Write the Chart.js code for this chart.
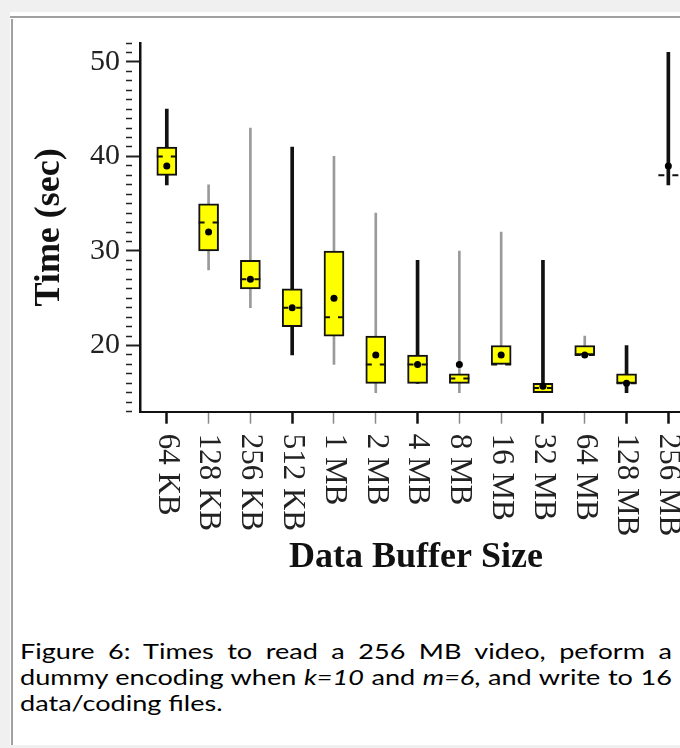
<!DOCTYPE html>
<html lang="en">
<head>
  <meta charset="UTF-8">
  <title>Figure 6: Data Buffer Size</title>
  <style>
    html, body { margin: 0; padding: 0; }
    body {
      width: 680px;
      height: 748px;
      overflow: hidden;
      position: relative;
      background: #f0f0f0;
    }
    #panel { position: absolute; left: 10px; top: 12px; width: 670px; height: 733px; background: #fff; }
    #topline { position: absolute; left: 10px; top: 16px; width: 670px; height: 2px; background: #a0a0a0; }
    #leftline { position: absolute; left: 11px; top: 19px; width: 2px; height: 726px; background: #a0a0a0; }
    #chart { position: absolute; left: 12px; top: 19px; }
    #caption {
      position: absolute;
      left: 20px;
      top: 638px;
      width: 530px;
      transform: scaleX(1.23);
      transform-origin: 0 0;
      font-family: Lato, "Open Sans", sans-serif;
      font-size: 22px;
      line-height: 26px;
      color: #000;
    }
    .just { text-align: justify; text-align-last: justify; }
  </style>
</head>
<body>
  <div id="panel"></div>
  <div id="topline"></div>
  <div id="leftline"></div>
  <canvas id="chart" width="684" height="581"></canvas>
  <div id="caption">
    <div class="just">Figure 6: Times to read a 256 MB video, peform a</div>
    <div class="just">dummy encoding when <i>k=10</i> and <i>m=6</i>, and write to 16</div>
    <div>data/coding files.</div>
  </div>

  <script src="https://cdn.jsdelivr.net/npm/chart.js"></script>
  <script>
    // buffer sizes along the x axis
    const labels = ['64 KB', '128 KB', '256 KB', '512 KB', '1 MB', '2 MB', '4 MB',
                    '8 MB', '16 MB', '32 MB', '64 MB', '128 MB', '256 MB'];

    // box plot values (seconds)
    const whiskerLow  = [37, 28, 24, 19, 18, 15, 16, 15, 18, 15, 19, 15, 37];
    const q1          = [38, 30, 26, 22, 21, 16, 16, 16, 18, 15, 19, 16, 38];
    const median      = [40, 33, 27, 24, 23, 18, 18, 16.5, 18, 15.5, 19, 16, 38];
    const q3          = [41, 35, 29, 26, 30, 21, 19, 17, 20, 16, 20, 17, 38];
    const whiskerHigh = [45, 37, 43, 41, 40, 34, 29, 30, 32, 29, 21, 20, 51];
    const mean        = [39, 32, 27, 24, 25, 19, 18, 18, 19, 15.7, 19, 16, 39];

    const yTickLabels = [20, 30, 40, 50];

    // whisker / tick look per category (the figure alternates dark and light)
    const whiskerStyle = ['thick', 'thin', 'thin', 'thick', 'thin', 'thin', 'thick',
                          'thin', 'thin', 'thick', 'thin', 'thick', 'thick'];

    const serif = '"Liberation Serif", "Times New Roman", serif';

    const boxData = labels.map((l, i) => ({ x: i, y: [q1[i], q3[i]] }));
    const meanData = labels.map((l, i) => ({ x: i, y: mean[i] }));
    const thickData = [];
    const thinData = [];
    labels.forEach((l, i) => {
      const d = { x: i, y: [whiskerLow[i], whiskerHigh[i]] };
      if (whiskerStyle[i] === 'thick') thickData.push(d); else thinData.push(d);
    });

    // median marks: short dashes across each box
    const medianPlugin = {
      id: 'medians',
      afterDatasetsDraw(chart) {
        const { ctx, chartArea, scales: { x, y } } = chart;
        ctx.save();
        ctx.beginPath();
        ctx.rect(chartArea.left, chartArea.top, chartArea.width, chartArea.height);
        ctx.clip();
        ctx.strokeStyle = '#111';
        ctx.lineWidth = 2;
        ctx.setLineDash([6, 8]);
        median.forEach((m, i) => {
          const px = x.getPixelForValue(i);
          const py = y.getPixelForValue(m);
          ctx.beginPath();
          ctx.moveTo(px - 10, py);
          ctx.lineTo(px + 10, py);
          ctx.stroke();
        });
        ctx.restore();
      }
    };

    // category names, turned to read top to bottom
    const xLabelPlugin = {
      id: 'xLabels',
      afterDraw(chart) {
        const { ctx, scales: { x } } = chart;
        ctx.save();
        ctx.font = '31px ' + serif;
        ctx.fillStyle = '#222';
        ctx.textAlign = 'left';
        ctx.textBaseline = 'middle';
        labels.forEach((l, i) => {
          ctx.save();
          ctx.translate(x.getPixelForValue(i), x.top + 22);
          ctx.rotate(Math.PI / 2);
          ctx.fillText(l, 0, 0);
          ctx.restore();
        });
        ctx.restore();
      }
    };

    new Chart(document.getElementById('chart'), {
      type: 'bar',
      data: {
        datasets: [
          { type: 'scatter', data: meanData, order: 0, pointRadius: 3.5,
            pointBackgroundColor: '#000', pointBorderWidth: 0 },
          { data: boxData, order: 1, backgroundColor: '#ffff00', borderColor: '#111',
            borderWidth: 2, borderSkipped: false, barThickness: 20, grouped: false },
          { data: thickData, order: 2, backgroundColor: '#111', barThickness: 3, grouped: false },
          { data: thinData, order: 2, backgroundColor: '#9a9a9a', barThickness: 2, grouped: false }
        ]
      },
      options: {
        responsive: false,
        animation: false,
        devicePixelRatio: 1,
        layout: { padding: { top: 21, left: 0, right: 0, bottom: 0 } },
        plugins: { legend: { display: false }, tooltip: { enabled: false } },
        scales: {
          x: {
            type: 'linear',
            min: -0.641,
            max: 12.566,
            offset: false,
            afterBuildTicks: s => { s.ticks = labels.map((l, i) => ({ value: i })); },
            afterFit: s => { s.height = 188.3; },
            border: { color: '#111', width: 2 },
            grid: {
              offset: false,
              drawOnChartArea: false,
              tickLength: 12,
              tickColor: c => whiskerStyle[c.index] === 'thick' ? '#111' : '#888',
              tickWidth: c => whiskerStyle[c.index] === 'thick' ? 2.5 : 1.5
            },
            ticks: { display: false },
            title: {
              display: true,
              text: 'Data Buffer Size',
              color: '#111',
              font: { family: serif, size: 36, weight: 'bold' },
              padding: { top: 0, bottom: 21 }
            }
          },
          y: {
            min: 13,
            max: 52,
            afterFit: s => { s.width = 128; },
            border: { color: '#111', width: 2.5 },
            grid: {
              drawOnChartArea: false,
              tickLength: 14,
              tickColor: '#222',
              tickWidth: c => yTickLabels.includes(c.tick.value) ? 2 : 1.5,
              tickBorderDash: c => yTickLabels.includes(c.tick.value) ? [] : [6, 30]
            },
            ticks: {
              stepSize: 1,
              autoSkip: false,
              padding: 6,
              color: '#222',
              font: { family: serif, size: 30 },
              callback: v => yTickLabels.includes(v) ? String(v) : ''
            },
            title: {
              display: true,
              text: 'Time (sec)',
              color: '#111',
              font: { family: serif, size: 36, weight: 'bold' },
              padding: { top: 16, bottom: 0 }
            }
          }
        }
      },
      plugins: [medianPlugin, xLabelPlugin]
    });
  </script>
</body>
</html>
